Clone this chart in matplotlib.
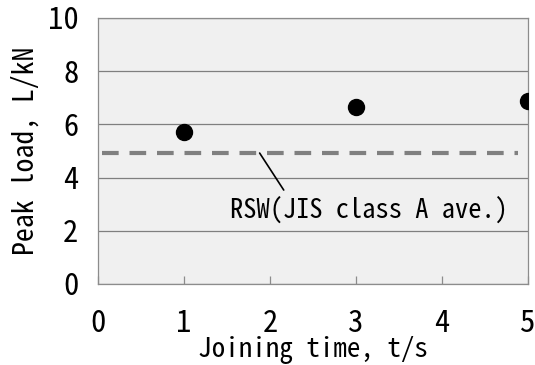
import matplotlib
matplotlib.use("Agg")
import matplotlib.pyplot as plt

plt.rcParams['font.family'] = ['Noto Sans Mono CJK JP', 'DejaVu Sans Mono']

# data
times = [1, 3, 5]
peak_load = [5.7, 6.65, 6.88]
rsw_avg = 4.92
rsw_span = [0.05, 4.88]
rsw_label = "RSW(JIS class A ave.)"

fig = plt.figure(figsize=(5.35, 3.65), dpi=100)
ax = fig.add_axes([0.183, 0.222, 0.804, 0.729])
ax.set_facecolor("#f0f0f0")

ax.set_xlim(0, 5)
ax.set_ylim(0, 10)
ax.set_xticks([0, 1, 2, 3, 4, 5])
ax.set_yticks([0, 2, 4, 6, 8, 10])

ax.grid(axis="y", color="#7f7f7f", linewidth=0.9)
ax.set_axisbelow(True)
for s in ax.spines.values():
    s.set_color("#8c8c8c")
    s.set_linewidth(0.9)

ax.tick_params(axis="x", direction="in", length=6, width=0.9, color="#8c8c8c",
               pad=18, labelsize=22)
ax.tick_params(axis="y", length=0, pad=14, labelsize=22)

ax.hlines(rsw_avg, rsw_span[0], rsw_span[1], colors="#808080", linewidth=3,
          linestyles=(0, (4, 2.6)))
ax.plot(times, peak_load, "o", color="black", markersize=11.5, clip_on=True, zorder=3)

# leader line from the dashed line down to the label
ax.annotate("", xy=(1.88, rsw_avg), xytext=(2.16, 3.53),
            arrowprops=dict(arrowstyle="-", color="black", lw=1.2,
                            shrinkA=0, shrinkB=0))
ax.text(1.535, 2.48, rsw_label, fontsize=19, va="baseline", ha="left")

ax.set_xlabel("Joining time, t/s", fontsize=19.5, va="baseline")
ax.xaxis.set_label_coords(0.5, -0.276)
ax.set_ylabel("Peak load, L/kN", fontsize=20, labelpad=6)

fig.savefig("out.png", dpi=100)
